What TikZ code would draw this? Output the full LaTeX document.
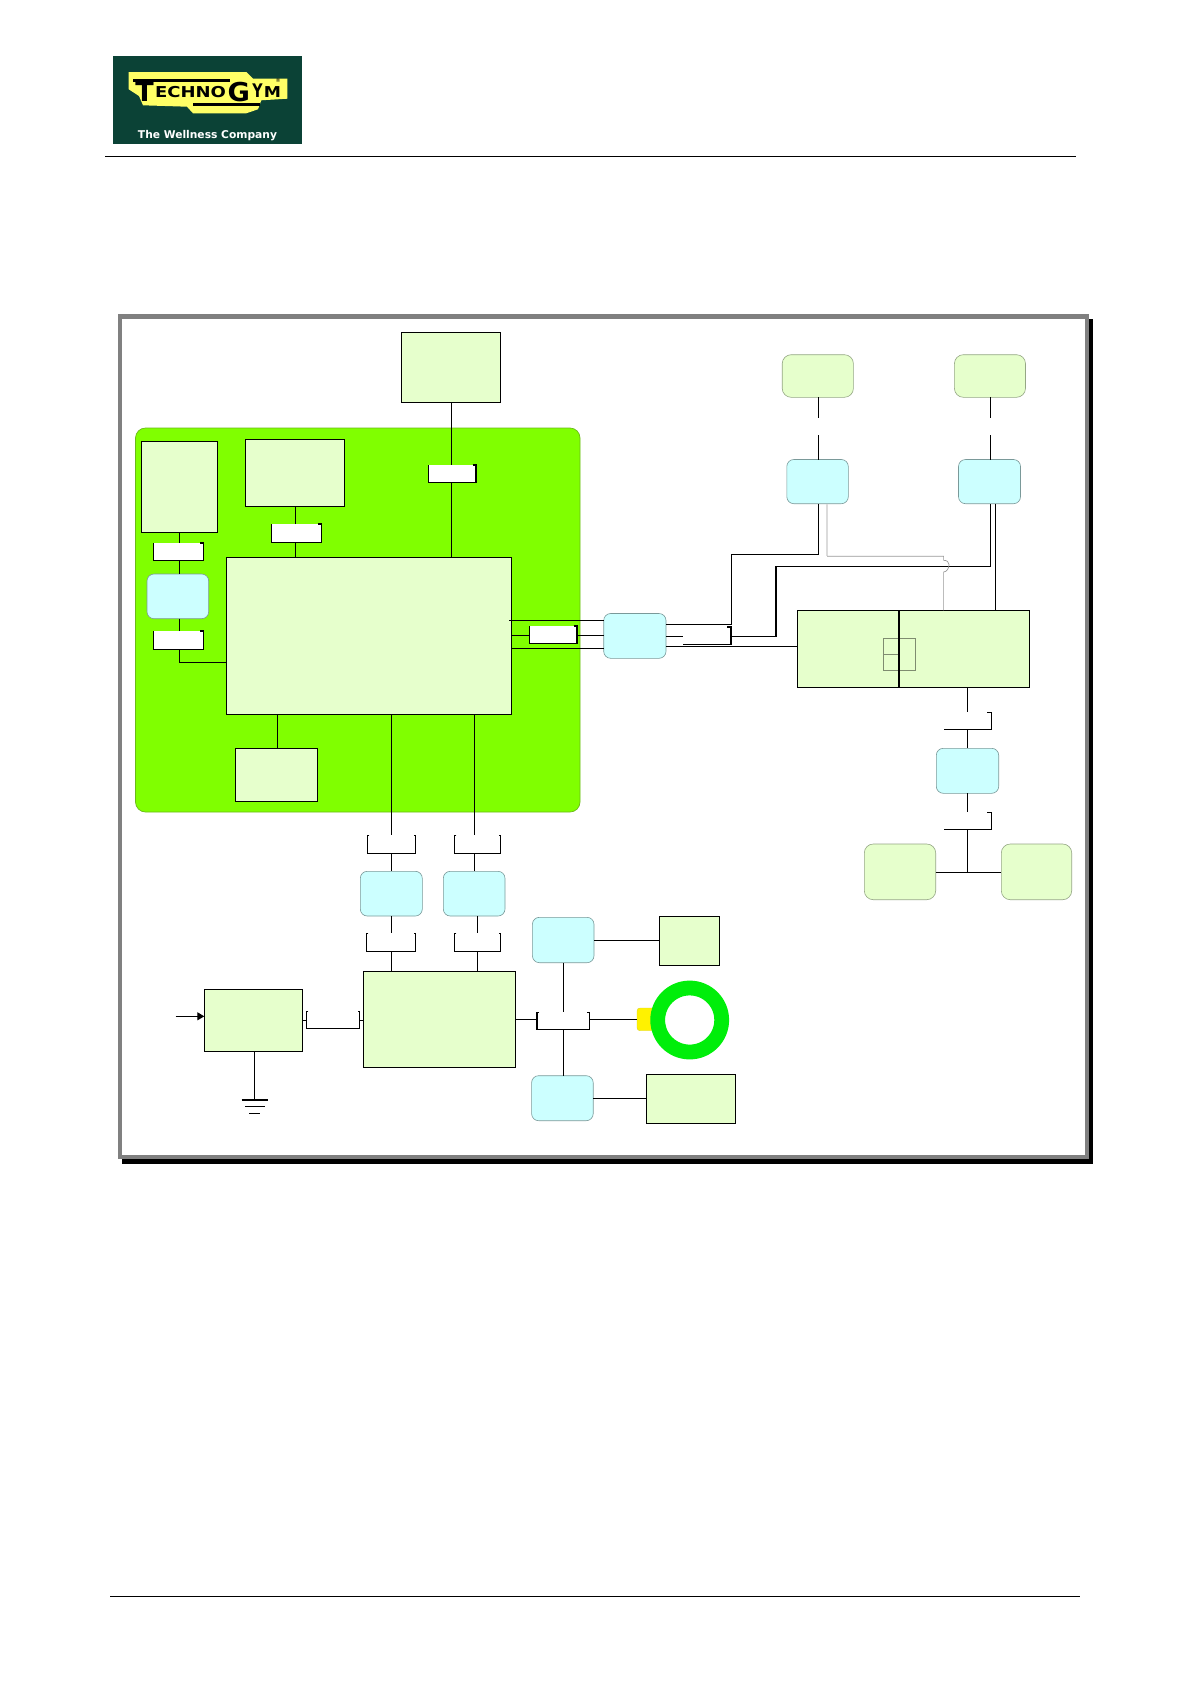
\documentclass[tikz,border=0pt]{standalone}
\usepackage{fontspec}
\setmainfont{Liberation Sans}
\newfontfamily\logofont{DejaVu Sans}
\usetikzlibrary{arrows.meta}
\definecolor{pale}{HTML}{E6FFCC}
\definecolor{cyanb}{HTML}{CCFFFF}
\definecolor{panelg}{HTML}{80FF00}
\definecolor{logog}{HTML}{0B4236}
\definecolor{logoy}{HTML}{FFFF66}
\tikzset{
  x=1pt,y=-1pt,
  every node/.style={inner sep=0pt,outer sep=0pt},
  wire/.style={draw=black,line width=1.1pt},
  framebox/.style={draw=black!50,line width=4.5pt,fill=white},
  shadowbox/.style={fill=black},
  panelbox/.style={fill=panelg,draw=panelg!70!black!90,line width=0.7pt,rounded corners=10pt},
  palebox/.style={fill=pale,draw=black,line width=1.1pt},
  roundpale/.style={fill=pale,draw=pale!65!black,line width=0.6pt,rounded corners=9pt},
  bluebox/.style={fill=cyanb,draw=cyanb!60!black,line width=0.6pt,rounded corners=7pt},
  whitebox/.style={fill=white},
  ghost/.style={},
  thingrey/.style={draw=black!40,line width=0.7pt},
  detail/.style={draw=pale!55!black,line width=0.6pt},
  logotext/.style={anchor=base west,font=\logofont\bfseries},
}
\newcommand{\bx}[6]{%
  \pgfmathsetmacro\bxw{#5-(#3)}\pgfmathsetmacro\bxh{#6-(#4)}%
  \node[#1,minimum width=\bxw pt,minimum height=\bxh pt] (#2) at ({(#3+#5)/2},{(#4+#6)/2}) {};}
% white label: white fill, bottom, right side, short stub at top right
\newcommand{\lab}[5]{%
  \bx{whitebox}{#1}{#2}{#3}{#4}{#5}%
  \draw[line width=0.5pt] (#1.north west) -- (#1.south west);
  \draw[wire] (#1.north east) ++(-3.5,0) -- (#1.north east) -- (#1.south east) -- (#1.south west);}
% open bracket with inward stubs on both sides
\newcommand{\brkU}[5]{%
  \bx{ghost}{#1}{#2}{#3}{#4}{#5}%
  \draw[wire] (#1.north west) ++(2,0) -- (#1.north west) -- (#1.south west) -- (#1.south east) -- (#1.north east) -- ++(-2,0);}
% bracket with only bottom and right side
\newcommand{\brkJ}[5]{%
  \bx{ghost}{#1}{#2}{#3}{#4}{#5}%
  \draw[wire] (#1.south west) -- (#1.south east) -- (#1.north east) -- ++(-4.5,0);}
\begin{document}
\begin{tikzpicture}
\useasboundingbox[fill=white] (0,0) rectangle (1190,1684);
% logo
\bx{fill=logog}{logo}{113.3}{56}{302}{144}
\fill[logoy] (128.7,72) -- (246.3,72) -- (253,78.7) -- (287.3,78.7) -- (287.3,98.7) -- (261.3,100.3) -- (258,109.3) -- (246.3,113.3) -- (193,113.3) -- (187,106.7) -- (143,105.3) -- (139,96) -- (128.7,89.3) -- cycle;
\node[anchor=base,font=\logofont\bfseries\fontsize{27}{27}\selectfont] (brandT) at (144.5,101) {T};
\node[logotext] (brandE) at (155,97.7) {\scalebox{1.2}[1]{\fontsize{15}{15}\selectfont ECHNO}};
\node[anchor=base east,font=\logofont\bfseries] (brandG) at (250,101) {\scalebox{1.05}[1]{\fontsize{26}{26}\selectfont G}};
\node[anchor=base,font=\logofont\bfseries] (brandY) at (257.5,97.7) {\scalebox{0.95}[1.25]{\fontsize{15}{15}\selectfont Y}};
\node[anchor=base east,font=\logofont\bfseries] (brandM) at (281,97.7) {\scalebox{1.15}[1]{\fontsize{15}{15}\selectfont M}};
\node[anchor=center,font=\logofont\fontsize{5.5}{6}\selectfont] (brandR) at (278,81) {®};
\fill (133,78.7) rectangle (230,81.5);
\fill (193,103.4) rectangle (260,105.6);
\node[anchor=base,text=white,font=\logofont\bfseries\fontsize{10.7}{11}\selectfont] (tag) at (207.5,138.3) {The Wellness Company};
% header and footer rules
\draw[line width=0.8pt] (105,156.7) -- (1076,156.7);
\draw[line width=0.8pt] (110,1596) -- (1080,1596);
% frame
\bx{shadowbox}{shadow}{122}{319}{1093}{1164}
\bx{framebox}{frame}{120}{316.5}{1087}{1157}
% panel
\bx{panelbox}{panel}{135.5}{428}{580}{812}
% boxes
\bx{palebox}{T}{401.6}{332.5}{500.8}{402.7}
\bx{palebox}{A}{141.3}{441.3}{217.7}{532.7}
\bx{palebox}{B}{245.3}{439.3}{344.7}{506.7}
\bx{palebox}{main}{226.3}{557.3}{511.7}{714.7}
\bx{palebox}{small}{235.3}{748.3}{317.7}{801.3}
\bx{bluebox}{C}{147}{574}{208.7}{618.7}
\bx{bluebox}{D1}{360.3}{871.3}{422.3}{916}
\bx{bluebox}{D2}{443.3}{871.3}{505}{916}
\bx{palebox}{E}{363.2}{971.8}{515.4}{1067.3}
\bx{palebox}{F}{204.3}{989.3}{302.7}{1051.3}
\bx{bluebox}{G1}{532.4}{917.3}{594}{962.7}
\bx{bluebox}{G2}{531.6}{1075.7}{593.2}{1120.7}
\bx{palebox}{H1}{659.3}{916.3}{719.3}{965.7}
\bx{palebox}{H2}{646.2}{1074.3}{735.5}{1123.7}
\bx{bluebox}{J}{603.7}{613.5}{666}{658.3}
\bx{bluebox}{K1}{786.8}{459.5}{848.3}{503.7}
\bx{bluebox}{K2}{958.5}{459.5}{1020.5}{503.7}
\bx{roundpale}{N1}{782.2}{354.7}{853.4}{397.3}
\bx{roundpale}{N2}{954.4}{354.7}{1025.5}{397.3}
\bx{palebox}{M}{797.8}{610.3}{1029.3}{687.3}
\bx{bluebox}{P}{936.3}{748.3}{998.7}{793.3}
\bx{roundpale}{Q1}{864.3}{844}{935.7}{899.7}
\bx{roundpale}{Q2}{1001.3}{844}{1071.7}{899.7}
% details in M
\bx{detail}{Md}{883}{638.3}{915}{670}
\draw[detail] (883,654.3) -- (899.3,654.3);
\draw[line width=1.9pt] (899.3,0 |- M.north) -- (899.3,0 |- M.south);
% ring
\bx{fill=yellow,draw=yellow!85!black,line width=0.4pt,rounded corners=3pt}{yel}{637}{1008}{660}{1030.7}
\node[circle,draw={rgb,255:red,0;green,238;blue,10},line width=14.8pt,fill=white,minimum size=64pt] (ring) at (689.7,1020) {};
% labels
\lab{L1}{428.2}{465}{476}{482.3}
\lab{L2}{271}{524}{321.7}{542.7}
\lab{L3}{153}{543}{203.7}{560.7}
\lab{L4}{153}{631}{203.7}{649.7}
\lab{L5}{529}{626}{577}{643.7}
% brackets
\brkU{B1}{367.3}{835.3}{415.7}{853.3}
\brkU{B2}{454.3}{835.3}{500.7}{853.3}
\brkU{B3}{366.3}{933.3}{415.7}{951.3}
\brkU{B4}{454.3}{933.3}{500.7}{951.3}
\brkU{B5}{306.3}{1011.3}{359.6}{1028.3}
\brkU{B6}{537}{1012.3}{589.3}{1029.3}
\brkJ{B7}{683.3}{627}{731}{644.3}
\brkJ{B8}{944}{712.3}{991.7}{729.3}
\brkJ{B9}{944}{812.3}{991.7}{829.3}
% connectors: left column of the panel
\draw[wire] (179.3,0 |- A.south) -- (179.3,0 |- L3.north);
\draw[wire] (179.3,0 |- L3.south) -- (179.3,0 |- C.north);
\draw[wire] (179.3,0 |- C.south) -- (179.3,0 |- L4.north);
\draw[wire] (179.3,0 |- L4.south) -- (179.3,662.3) -- (main.west |- 0,662.3);
\draw[wire] (295.3,0 |- B.south) -- (295.3,0 |- L2.north);
\draw[wire] (295.3,0 |- L2.south) -- (295.3,0 |- main.north);
\draw[wire] (451.2,0 |- T.south) -- (451.2,0 |- L1.north);
\draw[wire] (451.2,0 |- L1.south) -- (451.2,0 |- main.north);
\draw[wire] (277.3,0 |- main.south) -- (277.3,0 |- small.north);
% main to lower
\draw[wire] (391.3,0 |- main.south) -- (391.3,834.7);
\draw[wire] (474.3,0 |- main.south) -- (474.3,834.7);
\draw[wire] (391.3,0 |- B1.south) -- (391.3,0 |- D1.north);
\draw[wire] (474.3,0 |- B2.south) -- (474.3,0 |- D2.north);
\draw[wire] (391.3,0 |- D1.south) -- (391.3,932.7);
\draw[wire] (477.3,0 |- D2.south) -- (477.3,932.7);
\draw[wire] (391.3,0 |- B3.south) -- (391.3,0 |- E.north);
\draw[wire] (477.3,0 |- B4.south) -- (477.3,0 |- E.north);
% F and ground
\coordinate (inp) at (175.5,1016.3);
\draw[wire,-{Triangle[length=7pt,width=8pt]}] (inp) -- (F.west |- inp);
\draw[wire] (F.east |- 0,1020.3) -- (B5.west |- 0,1020.3);
\draw[wire] (B5.east |- 0,1020.3) -- (E.west |- 0,1020.3);
\coordinate (gnd) at (254.5,1100);
\draw[wire] (gnd |- F.south) -- (gnd);
\draw[wire] (241.5,1100) -- (268,1100);
\draw[wire] (245,1106.7) -- (264.5,1106.7);
\draw[wire] (249,1113.3) -- (260,1113.3);
% right of E
\draw[wire] (E.east |- 0,1019.3) -- (B6.west |- 0,1019.3);
\draw[wire] (B6.east |- 0,1019.3) -- (yel.west |- 0,1019.3);
\draw[wire] (563.2,0 |- G1.south) -- (563.2,1011.5);
\draw[wire] (563.2,0 |- B6.south) -- (563.2,0 |- G2.north);
\draw[wire] (G1.east |- 0,940.3) -- (H1.west |- 0,940.3);
\draw[wire] (G2.east |- 0,1098.3) -- (H2.west |- 0,1098.3);
% main to J
\draw[wire] (509,620.3) -- (J.west |- 0,620.3);
\draw[wire] (main.east |- 0,635.3) -- (L5.west |- 0,635.3);
\draw[wire] (L5.east |- 0,635.3) -- (J.west |- 0,635.3);
\draw[wire] (main.east |- 0,648.3) -- (J.west |- 0,648.3);
% J to K1, K2 and M
\draw[wire] (J.east |- 0,624.3) -- (731.9,624.3) -- (731.9,554.3) -- (818.5,554.3) -- (818.5,0 |- K1.south);
\draw[wire] (J.east |- 0,636.3) -- (B7.west |- 0,636.3);
\draw[wire] (B7.east |- 0,636.3) -- (776,636.3) -- (776,566.3) -- (990.5,566.3) -- (990.5,0 |- K2.south);
\draw[wire] (J.east |- 0,646.3) -- (M.west |- 0,646.3);
\draw[wire] (995.4,0 |- K2.south) -- (995.4,0 |- M.north);
% grey wire with its hop
\draw[draw=black!14,line width=1.6pt] (827,0 |- K1.south) -- (827,556.3);
\draw[thingrey] (827,556.3) -- (943.6,556.3) -- (943.6,560.3) .. controls (947,560.3) and (949,562) .. (949,564.5) .. controls (949,568) and (947,572) .. (943.6,572) -- (943.6,0 |- M.north);
% K to N
\draw[wire,line width=0.9pt] (818.5,0 |- N1.south) -- (818.5,417.7);
\draw[wire,line width=0.9pt] (818.5,435) -- (818.5,0 |- K1.north);
\draw[wire,line width=0.9pt] (990.2,0 |- N2.south) -- (990.2,417.7);
\draw[wire,line width=0.9pt] (990.2,435) -- (990.2,0 |- K2.north);
% M to P to Q
\draw[wire] (967.3,0 |- M.south) -- (967.3,711.7);
\draw[wire] (967.3,0 |- B8.south) -- (967.3,0 |- P.north);
\draw[wire] (967.3,0 |- P.south) -- (967.3,811.7);
\draw[wire] (967.3,0 |- B9.south) -- (967.3,872.3);
\draw[wire] (Q1.east |- 0,872.3) -- (Q2.west |- 0,872.3);
\end{tikzpicture}
\end{document}
